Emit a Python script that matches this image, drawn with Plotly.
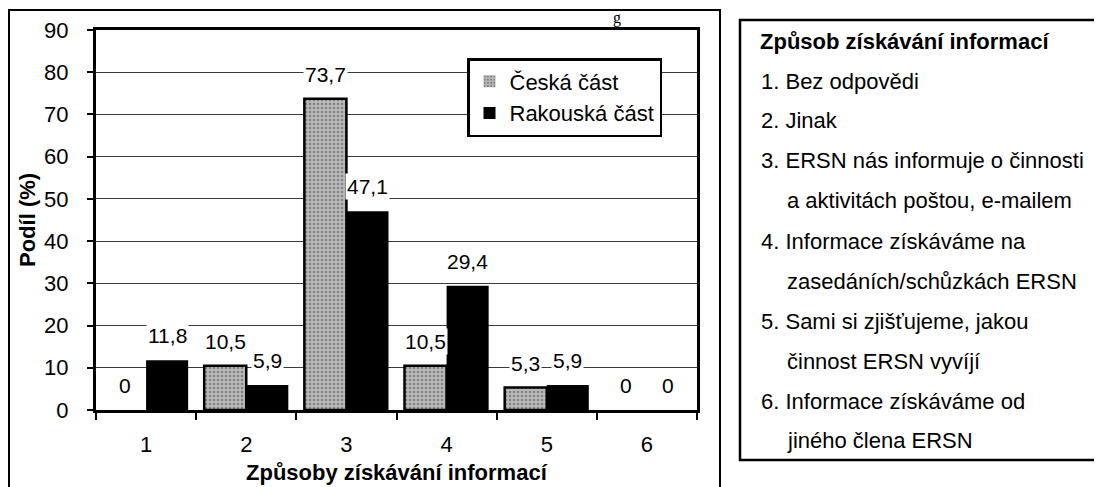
"""Způsoby získávání informací o činnosti ERSN - česká a rakouská část."""

import plotly.graph_objects as go

CATEGORIES = ["1", "2", "3", "4", "5", "6"]
CESKA = [0, 10.5, 73.7, 10.5, 5.3, 0]
RAKOUSKA = [11.8, 5.9, 47.1, 29.4, 5.9, 0]
Y_TICKS = [0, 10, 20, 30, 40, 50, 60, 70, 80, 90]

X_TITLE = "Způsoby získávání informací"
Y_TITLE = "Podíl (%)"
PANEL_TITLE = "Způsob získávání informací"
PANEL_LINES = [
    ("1. Bez odpovědi", False),
    ("2. Jinak", False),
    ("3. ERSN nás informuje o činnosti", False),
    ("a aktivitách poštou, e-mailem", True),
    ("4. Informace získáváme na", False),
    ("zasedáních/schůzkách ERSN", True),
    ("5. Sami si zjišťujeme, jakou", False),
    ("činnost ERSN vyvíjí", True),
    ("6. Informace získáváme od", False),
    ("jiného člena ERSN", True),
]

FONT = "Arial, Liberation Sans, sans-serif"
# the page body has an 8px margin, so the figure is shrunk and shifted by it
BODY = 8
WIDTH, HEIGHT = 1102 - BODY, 487 - BODY
# plot area in screen pixels
PLOT_L, PLOT_R, PLOT_T, PLOT_B = 96, 697, 30, 410


def px_x(px):
    return (px - PLOT_L) / (PLOT_R - PLOT_L)


def px_y(py):
    return (PLOT_B - py) / (PLOT_B - PLOT_T)


fig = go.Figure()
fig.add_trace(
    go.Bar(
        name="Česká část",
        x=CATEGORIES,
        y=CESKA,
        marker=dict(
            color="#b8b8b8",
            line=dict(color="black", width=[0 if v == 0 else 2.5 for v in CESKA]),
            pattern=dict(shape=".", fgcolor="#4a4a4a", size=4, solidity=0.3),
        ),
    )
)
fig.add_trace(
    go.Bar(
        name="Rakouská část",
        x=CATEGORIES,
        y=RAKOUSKA,
        marker=dict(color="black", line=dict(width=0)),
    )
)

# value labels above bars, white boxes break the gridlines like in the original
for series, shift in ((CESKA, -21), (RAKOUSKA, 21)):
    for i, value in enumerate(series):
        fig.add_annotation(
            x=i,
            y=value,
            xref="x",
            yref="y",
            text=f"{value:g}".replace(".", ","),
            showarrow=False,
            xshift=shift,
            yanchor="bottom",
            yshift=11,
            bgcolor="white",
            borderpad=1,
            font=dict(size=21, color="black", family=FONT),
        )

# outer frame of the chart and the side panel
fig.add_shape(
    type="rect", xref="paper", yref="paper",
    x0=px_x(9), x1=px_x(720), y0=px_y(520), y1=px_y(10),
    line=dict(color="black", width=2), layer="below",
)
fig.add_shape(
    type="rect", xref="paper", yref="paper",
    x0=px_x(740), x1=px_x(1120), y0=px_y(460), y1=px_y(20),
    line=dict(color="black", width=2.5), layer="below",
)

# axis titles
fig.add_annotation(
    xref="paper", yref="paper", x=0.5, y=px_y(472),
    xanchor="center", yanchor="middle", showarrow=False,
    text=f"<b>{X_TITLE}</b>", font=dict(size=22, color="black", family=FONT),
)
fig.add_annotation(
    xref="paper", yref="paper", x=px_x(27), y=0.5,
    xanchor="center", yanchor="middle", showarrow=False, textangle=-90,
    text=f"<b>{Y_TITLE}</b>", font=dict(size=22, color="black", family=FONT),
)

fig.add_annotation(
    xref="paper", yref="paper", x=px_x(758), y=px_y(42),
    xanchor="left", yanchor="middle", showarrow=False,
    text=f"<b>{PANEL_TITLE}</b>",
    font=dict(size=22, color="black", family=FONT),
)
for i, (line, indent) in enumerate(PANEL_LINES):
    fig.add_annotation(
        xref="paper", yref="paper",
        x=px_x(785 if indent else 759), y=px_y(81 + 40 * i),
        xanchor="left", yanchor="middle", showarrow=False,
        text=line,
        font=dict(size=22, color="black", family=FONT),
    )

# remnant of the caption above the chart
fig.add_annotation(
    xref="paper", yref="paper", x=px_x(617), y=px_y(BODY),
    xanchor="center", yanchor="top", showarrow=False, borderpad=0,
    text="g", font=dict(size=16, color="black", family="Liberation Serif, serif"),
)

fig.update_layout(
    width=WIDTH,
    height=HEIGHT,
    margin=dict(
        l=PLOT_L - BODY, r=1102 - PLOT_R, t=PLOT_T - BODY, b=487 - PLOT_B,
        autoexpand=False,
    ),
    paper_bgcolor="white",
    plot_bgcolor="white",
    barmode="group",
    bargap=0.16,
    bargroupgap=0,
    font=dict(family=FONT, color="black", size=22),
    legend=dict(
        x=px_x(467), y=px_y(58), xanchor="left", yanchor="top",
        bgcolor="white", bordercolor="black", borderwidth=2.5,
        font=dict(size=22, family=FONT, color="black"),
        itemwidth=30, tracegroupgap=0,
    ),
)
fig.update_xaxes(
    type="category",
    showline=True, mirror=True, linecolor="black", linewidth=3,
    ticks="outside", tickson="boundaries", ticklen=7, tickwidth=1.5, tickcolor="black",
    ticklabelstandoff=13,
    tickfont=dict(size=22),
    showgrid=False,
    automargin=False,
)
fig.update_yaxes(
    range=[0, 90],
    tickvals=Y_TICKS,
    showline=True, mirror=True, linecolor="black", linewidth=3,
    ticks="outside", ticklen=6, tickwidth=1.5, tickcolor="black",
    ticklabelstandoff=14,
    tickfont=dict(size=22),
    showgrid=True, gridcolor="#3a3a3a", gridwidth=1,
    zeroline=False,
    automargin=False,
)

fig.write_html("out.html")
